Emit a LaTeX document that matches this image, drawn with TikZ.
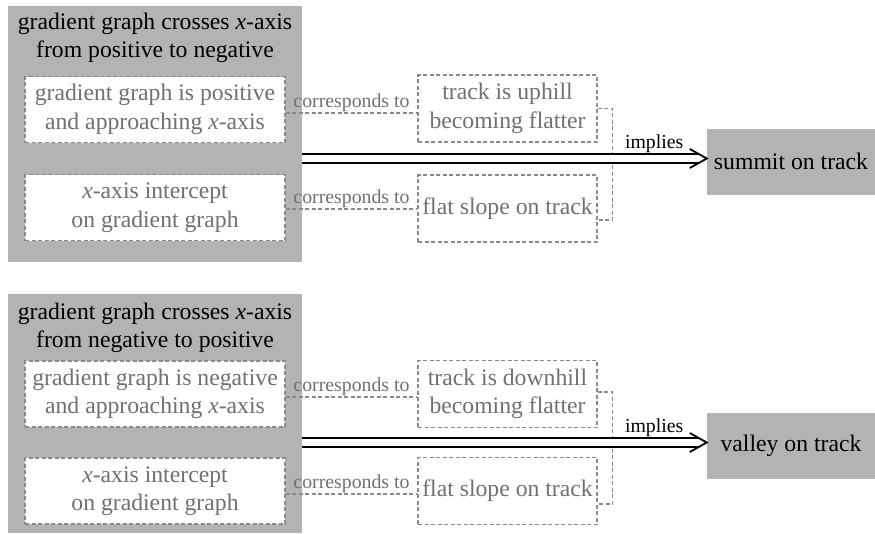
\documentclass[tikz,border=0pt]{standalone}
\usepackage{fontspec}
\setmainfont{Liberation Serif}
\usetikzlibrary{calc}
\definecolor{boxgray}{HTML}{B3B3B3}
\definecolor{txtgray}{HTML}{707070}
\definecolor{dashgray}{HTML}{8A8A8A}
\newcommand{\bgfont}{\fontsize{23.7}{28.5}\selectfont}
\newcommand{\smfont}{\fontsize{19.8}{24}\selectfont}
\tikzset{
  outerbox/.style={fill=boxgray, draw=none, minimum width=294pt, anchor=north west, inner sep=0pt},
  ttl/.style={align=center, font=\bgfont, text=black, inner sep=0pt},
  dashbox/.style={draw=dashgray, line width=1.4pt, dash pattern=on 4pt off 2.5pt, align=center, text=txtgray, font=\bgfont, inner sep=0pt},
  innerbox/.style={dashbox, fill=white, minimum width=260pt, minimum height=66pt},
  trackbox/.style={dashbox, minimum width=179pt, minimum height=67pt},
  result/.style={fill=boxgray, font=\bgfont, text=black, minimum width=168pt, minimum height=66pt, inner sep=0pt},
  lbl/.style={font=\smfont, text=txtgray, inner sep=1pt},
  implbl/.style={font=\smfont, text=black, inner sep=1pt},
  conn/.style={draw=dashgray, line width=1.4pt, dash pattern=on 4pt off 2.5pt},
  dbl/.style={double distance=7.5pt, line width=1.5pt, shorten >=8.5pt},
  chev/.style={line width=1.8pt, line join=miter},
}
\begin{document}
\begin{tikzpicture}[x=1pt, y=-1pt]
\useasboundingbox (0,0) rectangle (875,533);
% ---------- top group ----------
\node[outerbox, minimum height=256pt] (o1) at (8,6) {};
\node[ttl] (t1) at (155,38) {gradient graph crosses \textit{x}-axis\\from positive to negative};
\node[innerbox] (a1) at (155,109.5) {gradient graph is positive\\and approaching \textit{x}-axis};
\node[innerbox] (b1) at (155,207.5) {\textit{x}-axis intercept\\on gradient graph};
\node[trackbox] (c1) at (507.5,108.5) {track is uphill\\becoming flatter};
\node[trackbox] (d1) at (507.5,208.5) {flat slope on track};
\node[result] (s1) at (791,161.5) {summit on track};
\draw[conn] ($(a1.east)+(0,3.5)$) -- node[lbl, above] {corresponds to} ($(c1.west)+(0,4.5)$);
\draw[conn] ($(b1.east)+(0,1.5)$) -- node[lbl, above] {corresponds to} ($(d1.west)+(0,0.5)$);
\draw[conn] (c1.east) -- ++(15,0) coordinate (k1) -- (k1 |- 0,220) -- (d1.east |- 0,220);
\draw[dbl] (o1.east |- 0,158.5) -- node[implbl, pos=0.87, above=4pt] {implies} (s1.west |- 0,158.5);
\draw[chev] ($(s1.west |- 0,158.5)+(-17,-9.5)$) -- (s1.west |- 0,158.5) -- ++(-17,9.5);
% ---------- bottom group ----------
\node[outerbox, minimum height=239pt] (o2) at (8,294) {};
\node[ttl] (t2) at (155,328) {gradient graph crosses \textit{x}-axis\\from negative to positive};
\node[innerbox] (a2) at (155,394) {gradient graph is negative\\and approaching \textit{x}-axis};
\node[innerbox] (b2) at (155,491) {\textit{x}-axis intercept\\on gradient graph};
\node[trackbox] (c2) at (507.5,394) {track is downhill\\becoming flatter};
\node[trackbox] (d2) at (507.5,491) {flat slope on track};
\node[result] (s2) at (791,445.5) {valley on track};
\draw[conn] ($(a2.east)+(0,3)$) -- node[lbl, above] {corresponds to} ($(c2.west)+(0,3)$);
\draw[conn] ($(b2.east)+(0,3)$) -- node[lbl, above] {corresponds to} ($(d2.west)+(0,3)$);
\draw[conn] ($(c2.east)+(0,-2)$) -- ++(15,0) coordinate (k2) -- (k2 |- 0,504) -- (d2.east |- 0,504);
\draw[dbl] (o2.east |- 0,442.5) -- node[implbl, pos=0.87, above=4pt] {implies} (s2.west |- 0,442.5);
\draw[chev] ($(s2.west |- 0,442.5)+(-17,-9.5)$) -- (s2.west |- 0,442.5) -- ++(-17,9.5);
\end{tikzpicture}
\end{document}
